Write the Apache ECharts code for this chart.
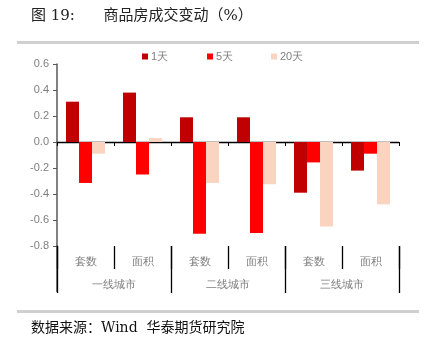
<!DOCTYPE html>
<html><head><meta charset="utf-8">
<script src="https://cdn.jsdelivr.net/npm/echarts@6/dist/echarts.min.js"></script>
<style>html,body{margin:0;padding:0;background:#fff}#c{width:432px;height:346px}</style>
</head><body><div id="c"></div>
<script>
const subCats = ['套数','面积','套数','面积','套数','面积'];
const groupCats = ['一线城市','二线城市','三线城市'];
const seriesNames = ['1天','5天','20天'];
const d1 = [0.31, 0.38, 0.19, 0.19, -0.39, -0.22];
const d5 = [-0.315, -0.25, -0.705, -0.70, -0.157, -0.09];
const d20 = [-0.09, 0.03, -0.315, -0.325, -0.65, -0.48];
const colors = ['#C00000', '#FF0000', '#FBD4C0'];

const chart = echarts.init(document.getElementById('c'), null, {renderer:'canvas'});
const gridL = 57, gridR = 33, gridT = 64, gridB = 100;
const serifFont = '"DejaVu Serif", "Liberation Serif", "Noto Sans CJK SC", serif';
const lblColor = '#7F7F7F';
function mk(name, data, i){
  return {name:name, type:'bar', data:data, xAxisIndex:0, yAxisIndex:0,
    barWidth:13, barGap:'0%',
    itemStyle:{color:colors[i]}};
}
chart.setOption({
  animation:false,
  title:[
    {text:'图 19:      商品房成交变动（%）', left:26, top:4,
     textStyle:{fontFamily:serifFont, fontSize:15, fontWeight:'normal', color:'#222'}},
    {text:'数据来源：Wind  华泰期货研究院', left:26, top:316,
     textStyle:{fontFamily:serifFont, fontSize:14, fontWeight:'normal', color:'#111'}}
  ],
  graphic:[
    {type:'rect', shape:{x:17, y:41, width:402, height:3}, style:{fill:'#D0D0D0'}},
    {type:'rect', shape:{x:17, y:310, width:402, height:3}, style:{fill:'#D0D0D0'}},
    {type:'line', shape:{x1:57, y1:245, x2:57, y2:292}, style:{stroke:'#595959', lineWidth:1.5}}
  ],
  legend:[0,1,2].map(i=>({
    data:[seriesNames[i]], left:[137,202,266][i], top:46,
    itemWidth:6, itemHeight:6, itemGap:4, icon:'rect',
    textStyle:{color:lblColor, fontSize:11, padding:[0,0,0,-2]}
  })),
  grid:{left:gridL, right:gridR, top:gridT, bottom:gridB},
  xAxis:[
    {type:'category', data:subCats, position:'bottom',
     axisLine:{onZero:true, lineStyle:{color:'#000', width:1.3}},
     axisTick:{show:true, length:4, lineStyle:{color:'#000'}, alignWithLabel:false},
     axisLabel:{show:false}, splitLine:{show:false}},
    {type:'category', data:subCats, position:'bottom', gridIndex:0,
     axisLine:{show:false, onZero:false},
     axisTick:{show:true, length:23, lineStyle:{color:'#000', width:1.3}},
     axisLabel:{show:true, color:lblColor, fontSize:11, margin:10},
     splitLine:{show:false}},
    {type:'category', data:groupCats, position:'bottom', gridIndex:0,
     axisLine:{show:false, onZero:false},
     axisTick:{show:true, length:47, lineStyle:{color:'#000', width:1.3}},
     axisLabel:{show:true, color:lblColor, fontSize:11, margin:33},
     splitLine:{show:false}}
  ],
  yAxis:{type:'value', min:-0.8, max:0.6, interval:0.2,
    axisLine:{show:true, lineStyle:{color:'#595959', width:1.5}},
    axisTick:{show:true, length:4, lineStyle:{color:'#595959'}},
    axisLabel:{color:lblColor, fontSize:11, margin:8, formatter:v=>v.toFixed(1)},
    splitLine:{show:false}},
  series:[mk(seriesNames[0],d1,0), mk(seriesNames[1],d5,1), mk(seriesNames[2],d20,2),
    {type:'bar', xAxisIndex:1, data:[], silent:true},
    {type:'bar', xAxisIndex:2, data:[], silent:true}]
});
</script></body></html>
